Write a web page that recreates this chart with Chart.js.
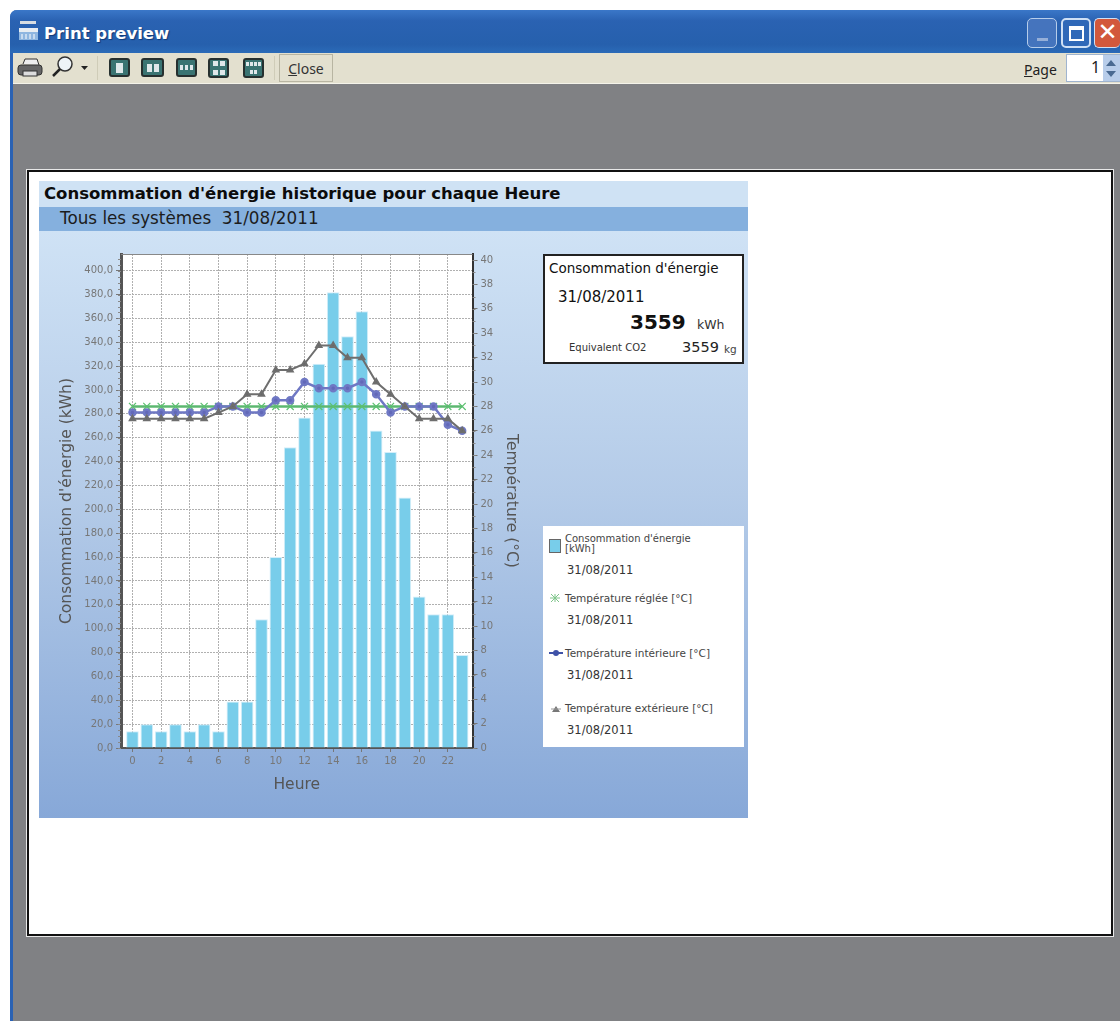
<!DOCTYPE html>
<html>
<head>
<meta charset="utf-8">
<title>Print preview</title>
<script src="https://cdn.jsdelivr.net/npm/chart.js@4/dist/chart.umd.min.js"></script>
<style>
  html, body { margin: 0; padding: 0; background: #fff; }
  body { width: 1120px; height: 1021px; overflow: hidden; position: relative; font-family: "DejaVu Sans", sans-serif; }
  .abs { position: absolute; white-space: nowrap; }
  #win { left: 10px; top: 10px; width: 1110px; height: 1011px; background: #808184; border-left: 3px solid #2a62b4; box-sizing: border-box; border-top-left-radius: 7px; overflow: hidden; }
  #titlebar { left: 10px; top: 10px; width: 1110px; height: 43px; background: linear-gradient(#3a77c8, #2a62b2 25%, #2660ad 80%, #2b6bb8); border-top-left-radius: 7px; }
  #caption { left: 44px; top: 24px; font: bold 16.5px "DejaVu Sans"; color: #fff; text-shadow: 1px 1px 1px #123a78; }
  #toolbar { left: 13px; top: 53px; width: 1107px; height: 30px; background: #e3e0cf; border-bottom: 1px solid #f4f3ea; }
  .sep { width: 1px; height: 24px; top: 56px; background: #cfccb8; }
  .ic { top: 58px; width: 21px; height: 19px; background: #3a7472; border: 2px solid #26302f; border-radius: 3px; box-sizing: border-box; display: flex; align-items: center; justify-content: center; gap: 2px; flex-wrap: wrap; }
  .ic i { display: block; background: #dfe8ea; }
  #closeBtn { left: 279px; top: 54px; width: 54px; height: 28px; border: 1px solid #b8b5a2; box-sizing: border-box; font: 14px "Noto Sans"; color: #333; text-align: center; line-height: 27px; }
  #pageLab { left: 1024px; top: 60px; font: 14px "Noto Sans"; color: #222; }
  #pageBox { left: 1066px; top: 54px; width: 54px; height: 28px; background: #fff; border: 1px solid #9fb4cf; box-sizing: border-box; font: 16px "Noto Sans"; color: #222; padding-left: 24px; line-height: 25px; }
  .wbtn { top: 18px; width: 30px; height: 30px; border: 1px solid #cfe0f5; border-radius: 5px; box-sizing: border-box; color: #fff; }
  #page { left: 27px; top: 170px; width: 1086px; height: 766px; background: #fff; border: 2px solid #111; outline: 1px solid #e8e8e8; box-sizing: border-box; }
  #band1 { left: 39px; top: 181px; width: 709px; height: 26px; background: #cfe2f4; }
  #band2 { left: 39px; top: 207px; width: 709px; height: 24px; background: #85b0de; }
  #panel { left: 39px; top: 231px; width: 709px; height: 587px; background: linear-gradient(#cfe2f5, #b4cbe8 45%, #87a8d8); }
  #h1 { left: 44px; top: 184px; font: bold 16.5px "DejaVu Sans"; color: #0c0c0c; }
  #h2 { left: 60px; top: 208px; font: 16.8px "DejaVu Sans"; color: #1c1c1c; }
  #chartWrap { left: 39px; top: 230px; }
  #sumBox { left: 543px; top: 254px; width: 201px; height: 110px; background: #fff; border: 2px solid #222; box-sizing: border-box; }
  #legendBox { left: 543px; top: 526px; width: 201px; height: 221px; background: #fff; }
  .lg { font: 10.5px "DejaVu Sans"; color: #444; }
  .lgd { font: 11.5px "DejaVu Sans"; color: #333; }
</style>
</head>
<body>
<div class="abs" id="win"></div>
<div class="abs" id="titlebar"></div>
<svg class="abs" style="left:18px;top:20px" width="22" height="24"><rect x="2" y="1" width="16" height="3" fill="#d8dde2"/><rect x="1" y="8" width="19" height="4" fill="#e8edf2"/><rect x="1" y="12" width="19" height="8" fill="#8fb6e0"/><path d="M4 14v5M8 14v5M12 14v5M16 14v5" stroke="#fff"/></svg>
<div class="abs" id="caption">Print preview</div>
<div class="abs wbtn" style="left:1027px;background:#4a78c0;opacity:.85"><div style="position:absolute;left:9px;top:19px;width:11px;height:3px;background:#a9bde0"></div></div>
<div class="abs wbtn" style="left:1061px;background:#2f68b8;border-width:2px"><div style="position:absolute;left:6px;top:6px;width:15px;height:15px;border:2px solid #fff;border-top-width:4px;box-sizing:border-box"></div></div>
<div class="abs wbtn" style="left:1094px;width:26px;background:#d2583c;font:bold 24px/26px 'DejaVu Sans';text-align:center;border-right:0">✕</div>

<div class="abs" id="toolbar"></div>
<svg class="abs" style="left:16px;top:56px" width="80" height="24">
  <path d="M7 8l2-5h12l2 6" fill="#eee" stroke="#333"/><rect x="2" y="9" width="24" height="10" rx="3" fill="#666" stroke="#333"/><rect x="7" y="15" width="14" height="5" fill="#ddd" stroke="#333"/>
  <circle cx="49" cy="8" r="7" fill="#eef4f8" stroke="#333" stroke-width="1.5"/><path d="M44 13l-7 7" stroke="#222" stroke-width="2.5"/>
  <path d="M65 10h7l-3.500 4z" fill="#222"/>
</svg>
<div class="abs sep" style="left:97px"></div>
<div class="abs ic" style="left:109px"><i style="width:7px;height:10px"></i></div>
<div class="abs ic" style="left:141px;width:23px"><i style="width:5px;height:8px"></i><i style="width:5px;height:8px"></i></div>
<div class="abs ic" style="left:176px;width:21px"><i style="width:3px;height:5px"></i><i style="width:3px;height:5px"></i><i style="width:3px;height:5px"></i></div>
<div class="abs ic" style="left:208px;width:21px;height:20px"><i style="width:5px;height:5px"></i><i style="width:5px;height:5px"></i><i style="width:5px;height:5px"></i><i style="width:5px;height:5px"></i></div>
<div class="abs ic" style="left:243px;width:21px;height:20px;gap:1px"><i style="width:3px;height:4px"></i><i style="width:3px;height:4px"></i><i style="width:3px;height:4px"></i><i style="width:3px;height:4px"></i><i style="width:3px;height:4px"></i><i style="width:3px;height:4px"></i></div>
<div class="abs sep" style="left:274px"></div>
<div class="abs" id="closeBtn"><u>C</u>lose</div>
<div class="abs" id="pageLab"><u>P</u>age</div>
<div class="abs" id="pageBox">1</div>
<div class="abs" style="left:1103px;top:55px;width:17px;height:26px;background:#b8cdea"></div>
<svg class="abs" style="left:1103px;top:56px" width="17" height="25"><path d="M3 10l5-6 5 6z M3 15l5 6 5-6z" fill="#4a6a92"/></svg>

<div class="abs" id="page"></div>
<div class="abs" id="band1"></div>
<div class="abs" id="band2"></div>
<div class="abs" id="panel"></div>
<div class="abs" id="h1">Consommation d'énergie historique pour chaque Heure</div>
<div class="abs" id="h2">Tous les systèmes&nbsp; 31/08/2011</div>

<div class="abs" id="chartWrap"><canvas id="chart" width="490" height="588"></canvas></div>

<div class="abs" id="sumBox"></div>
<div class="abs" style="left:549px;top:260px;font:13.5px 'DejaVu Sans';color:#111">Consommation d'énergie</div>
<div class="abs" style="left:558px;top:288px;font:15px 'DejaVu Sans';color:#111">31/08/2011</div>
<div class="abs" style="left:630px;top:310px;font:bold 20px 'DejaVu Sans';color:#111">3559</div>
<div class="abs" style="left:697px;top:317px;font:12.5px 'DejaVu Sans';color:#333">kWh</div>
<div class="abs" style="left:569px;top:342px;font:10px 'DejaVu Sans';color:#333">Equivalent CO2</div>
<div class="abs" style="left:682px;top:339px;font:14.500px 'DejaVu Sans';color:#222">3559</div>
<div class="abs" style="left:724px;top:343px;font:10.500px 'DejaVu Sans';color:#444">kg</div>

<div class="abs" id="legendBox"></div>
<svg class="abs" style="left:548px;top:538px" width="20" height="200">
  <rect x="1.500" y="1.500" width="11" height="13" fill="#78cdea" stroke="#666"/>
  <path d="M2 60h10M7 56v8M3 56l8 8M11 56l-8 8" stroke="#7fc58a" fill="none"/>
  <path d="M1 115h14" stroke="#3f52a8" stroke-width="2"/><circle cx="8" cy="115" r="3" fill="#3f52a8"/>
  <path d="M4 174l4-6 4 6z" fill="#777"/><path d="M3 171h10" stroke="#999"/>
</svg>
<div id="legendItems"></div>

<script>
const hours = [0, 1, 2, 3, 4, 5, 6, 7, 8, 9, 10, 11, 12, 13, 14, 15, 16, 17, 18, 19, 20, 21, 22, 23];
const consommation = [14, 20, 14, 20, 14, 20, 14, 39, 39, 108, 160, 252, 277, 322, 382, 345, 366, 266, 248, 210, 127, 112, 112, 78];
const tempReglee = [28, 28, 28, 28, 28, 28, 28, 28, 28, 28, 28, 28, 28, 28, 28, 28, 28, 28, 28, 28, 28, 28, 28, 28];
const tempInterieure = [27.5, 27.5, 27.5, 27.5, 27.5, 27.5, 28, 28, 27.5, 27.5, 28.5, 28.5, 30, 29.5, 29.5, 29.5, 30, 29, 27.5, 28, 28, 28, 26.5, 26];
const tempExterieure = [27, 27, 27, 27, 27, 27, 27.5, 28, 29, 29, 31, 31, 31.5, 33, 33, 32, 32, 30, 29, 28, 27, 27, 27, 26];
const xTicks = [0, 2, 4, 6, 8, 10, 12, 14, 16, 18, 20, 22];
const energyTicks = [0, 20, 40, 60, 80, 100, 120, 140, 160, 180, 200, 220, 240, 260, 280, 300, 320, 340, 360, 380, 400];
const tempTicks = [0, 2, 4, 6, 8, 10, 12, 14, 16, 18, 20, 22, 24, 26, 28, 30, 32, 34, 36, 38, 40];
const seriesNames = ["Consommation d'énergie", 'Température réglée [°C]', 'Température intérieure [°C]', 'Température extérieure [°C]'];
const legendDate = '31/08/2011';

const toXY = values => values.map((v, i) => ({ x: hours[i], y: v }));
const useTicks = list => s => { s.ticks = list.map(v => ({ value: v })); };

// html legend, same look as the white box on the report
const legendTops = [[534, 563], [592, 613], [647, 668], [702, 723]];
let legendHtml = '';
seriesNames.forEach((name, i) => {
  const label = i === 0 ? name + '<br>[kWh]' : name;
  const size = i === 0 ? 'font-size:10px;' : '';
  legendHtml += '<div class="abs lg" style="' + size + 'left:565px;top:' + legendTops[i][0] + 'px;line-height:' + (i === 0 ? 10 : 13) + 'px">' + label + '</div>';
  legendHtml += '<div class="abs lgd" style="left:567px;top:' + legendTops[i][1] + 'px">' + legendDate + '</div>';
});
document.getElementById('legendItems').innerHTML = legendHtml;

const tickFont = { family: 'DejaVu Sans', size: 10 };
const titleFont = { family: 'DejaVu Sans', size: 15.5 };
const gridLook = { color: '#b0b0b0', lineWidth: 1, tickColor: '#777', tickLength: 5 };
const dash = { dash: [2, 1], color: '#555', width: 2 };

// white plot, top edge and the small minor ticks the library has no option for
const plotExtras = {
  id: 'plotExtras',
  beforeDraw(chart) {
    const { ctx, chartArea: a } = chart;
    ctx.save();
    ctx.fillStyle = '#fff';
    ctx.fillRect(a.left, a.top, a.right - a.left, a.bottom - a.top);
    ctx.restore();
  },
  afterDraw(chart) {
    const { ctx, chartArea: a, scales } = chart;
    ctx.save();
    ctx.strokeStyle = '#888';
    ctx.lineWidth = 1;
    ctx.beginPath();
    ctx.moveTo(a.left, a.top + 0.5);
    ctx.lineTo(a.right, a.top + 0.5);
    for (let v = 0; v <= scales.y.max; v += 5) {
      const p = Math.round(scales.y.getPixelForValue(v)) + 0.5;
      ctx.moveTo(a.left - 3, p);
      ctx.lineTo(a.left, p);
    }
    for (let v = 0; v <= scales.y2.max; v += 1) {
      const p = Math.round(scales.y2.getPixelForValue(v)) + 0.5;
      ctx.moveTo(a.right, p);
      ctx.lineTo(a.right + 3, p);
    }
    ctx.stroke();
    ctx.restore();
  }
};

new Chart(document.getElementById('chart').getContext('2d'), {
  data: {
    datasets: [
      {
        type: 'bar', label: seriesNames[0], data: toXY(consommation), yAxisID: 'y', order: 4,
        backgroundColor: '#78cdea', borderColor: '#d4eefa', borderWidth: 1,
        categoryPercentage: 1, barPercentage: 0.88
      },
      {
        type: 'line', label: seriesNames[1], data: toXY(tempReglee), yAxisID: 'y2', order: 3,
        borderColor: '#5cb870', borderWidth: 2.5, pointStyle: 'crossRot', pointRadius: 5,
        pointBorderColor: '#5cc070', pointBorderWidth: 1.2, tension: 0
      },
      {
        type: 'line', label: seriesNames[2], data: toXY(tempInterieure), yAxisID: 'y2', order: 2,
        borderColor: '#6f78c4', backgroundColor: '#6268b8', borderWidth: 2.5, pointStyle: 'circle',
        pointRadius: 3, tension: 0
      },
      {
        type: 'line', label: seriesNames[3], data: toXY(tempExterieure), yAxisID: 'y2', order: 1,
        borderColor: '#6e6e6e', backgroundColor: '#666', borderWidth: 2, pointStyle: 'triangle',
        pointRadius: 3, tension: 0
      }
    ]
  },
  options: {
    responsive: false,
    animation: false,
    layout: { padding: { top: 24, left: 0, right: 0, bottom: 0 } },
    plugins: { legend: { display: false }, tooltip: { enabled: false } },
    scales: {
      x: {
        type: 'linear', min: -0.8, max: 23.72, bounds: 'data', position: 'bottom', offset: false,
        afterBuildTicks: useTicks(xTicks),
        afterFit(s) { s.height = 70; },
        ticks: { autoSkip: false, maxRotation: 0, color: '#777', font: tickFont, padding: 3 },
        grid: { ...gridLook, offset: false, tickLength: 4 },
        border: dash,
        title: { display: true, text: 'Heure', color: '#555', font: titleFont, padding: { top: 0, bottom: 24 } }
      },
      y: {
        type: 'linear', min: 0, max: 414, bounds: 'data', position: 'left',
        afterBuildTicks: useTicks(energyTicks),
        afterFit(s) { s.width = 82; },
        ticks: {
          autoSkip: false, color: '#777', font: tickFont, padding: 3,
          callback: v => v.toFixed(1).replace('.', ',')
        },
        grid: gridLook,
        border: { ...dash, width: 3 },
        title: { display: true, text: "Consommation d'énergie (kWh)", color: '#555', font: titleFont, padding: { top: 19, bottom: 0 } }
      },
      y2: {
        type: 'linear', min: 0, max: 40.5, bounds: 'data', position: 'right',
        afterBuildTicks: useTicks(tempTicks),
        afterFit(s) { s.width = 56.5; },
        ticks: { autoSkip: false, color: '#777', font: tickFont, padding: 3 },
        grid: { drawOnChartArea: false, tickColor: '#777', tickLength: 5 },
        border: { color: '#333', width: 2 },
        title: { display: true, text: 'Température (°C)', color: '#555', font: titleFont, padding: { top: 9, bottom: 0 } }
      }
    }
  },
  plugins: [plotExtras]
});
</script>
</body>
</html>
